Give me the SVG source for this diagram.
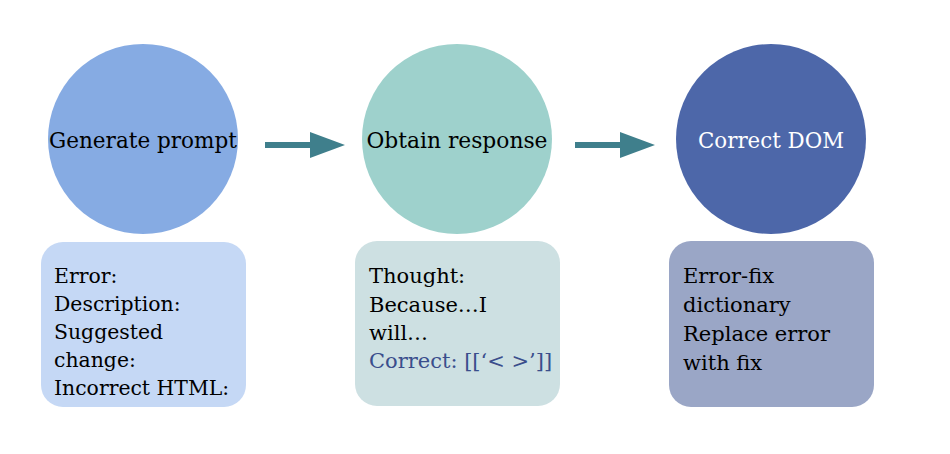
<svg xmlns="http://www.w3.org/2000/svg" width="950" height="454" viewBox="0 0 950 454">
<defs>
<style>
text{font-family:"DejaVu Serif","Liberation Serif",serif;font-size:21px;fill:#000}
.b1{font-size:20.4px}
.lbl{text-anchor:middle;font-size:21.5px}
.conn{stroke:#3f7f8c;stroke-width:6;fill:none}
.head{fill:#3f7f8c}
</style>
</defs>
<rect width="950" height="454" fill="#fff"/>
<g id="connectors">
<line class="conn" x1="265" y1="145" x2="312" y2="145"/>
<polygon class="head" points="310,132 345,145 310,158"/>
<line class="conn" x1="575" y1="145" x2="622" y2="145"/>
<polygon class="head" points="620,132 655,145 620,158"/>
</g>
<g id="generate-prompt">
<circle cx="143" cy="139" r="95" fill="#86abe3"/>
<text class="lbl" x="143" y="148" textLength="188" lengthAdjust="spacingAndGlyphs">Generate prompt</text>
</g>
<g id="prompt-box">
<rect x="41" y="242" width="205" height="165" rx="22" fill="#c5d8f5"/>
<text class="b1" x="54" y="283">Error:</text>
<text class="b1" x="54" y="311">Description:</text>
<text class="b1" x="54" y="339">Suggested</text>
<text class="b1" x="54" y="367">change:</text>
<text class="b1" x="54" y="395">Incorrect HTML:</text>
</g>
<g id="obtain-response">
<circle cx="457" cy="139" r="95" fill="#9ed1cc"/>
<text class="lbl" x="457" y="148" textLength="181" lengthAdjust="spacingAndGlyphs">Obtain response</text>
</g>
<g id="response-box">
<rect x="355" y="241" width="205" height="165" rx="22" fill="#cde0e2"/>
<text x="369" y="283">Thought:</text>
<text x="369" y="312">Because…I</text>
<text x="369" y="340">will…</text>
<text x="369" y="368" style="fill:#3a4e8c">Correct: [[‘&lt; &gt;’]]</text>
</g>
<g id="correct-dom">
<circle cx="771" cy="139" r="95" fill="#4d67a9"/>
<text class="lbl" x="771" y="148" style="fill:#fff" textLength="146" lengthAdjust="spacingAndGlyphs">Correct DOM</text>
</g>
<g id="dom-box">
<rect x="669" y="241" width="205" height="166" rx="22" fill="#9aa6c6"/>
<text x="683" y="283">Error-fix</text>
<text x="683" y="312">dictionary</text>
<text x="683" y="341">Replace error</text>
<text x="683" y="370">with fix</text>
</g>
</svg>
